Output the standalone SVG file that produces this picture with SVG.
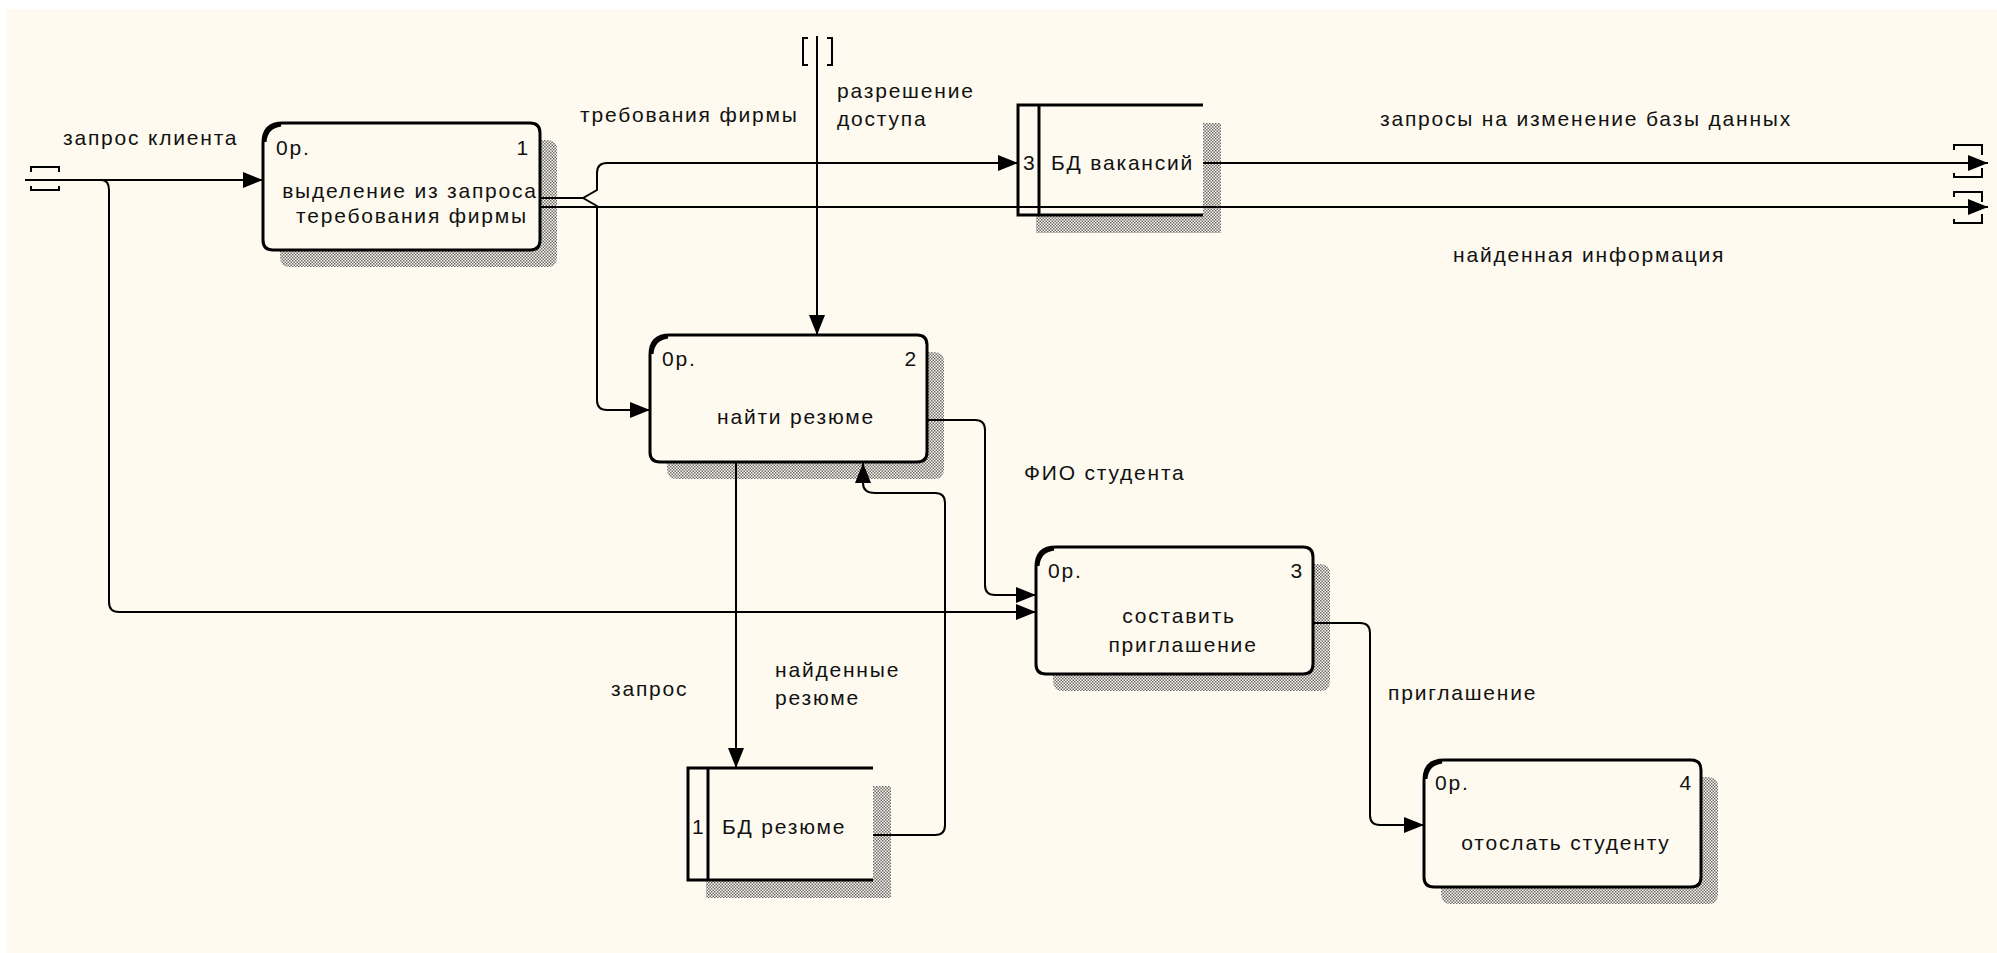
<svg xmlns="http://www.w3.org/2000/svg" xmlns:xlink="http://www.w3.org/1999/xlink" width="1997" height="953" viewBox="0 0 1997 953">
<style>
.bg{fill:#FEFAEF}
.box{fill:#FEFAEF;stroke:#000;stroke-width:3}
.shadow{fill:url(#hatch);stroke:none}
.ds{fill:none;stroke:#000;stroke-width:3}
.cn{fill:none;stroke:#000;stroke-width:2}
.tun{fill:none;stroke:#000;stroke-width:2}
text{font-family:"Liberation Sans",Arial,sans-serif;font-size:21px;fill:#111;letter-spacing:1.8px}
.mid{text-anchor:middle}
.end{text-anchor:end}
</style>
<defs>
<pattern id="hatch" width="3" height="3" patternUnits="userSpaceOnUse">
<rect width="3" height="3" fill="#FEFAEF"/>
<rect x="0" y="0" width="1.5" height="1.5" fill="#6a6a6a"/>
<rect x="1.5" y="1.5" width="1.5" height="1.5" fill="#6a6a6a"/>
</pattern>
<path id="boxShape" d="M0,20 Q0,0 20,0 H267 Q277,0 277,10 V117 Q277,127 267,127 H10 Q0,127 0,117 Z"/>
<path id="corner" d="M2,19 Q3,4 18,2" fill="none" stroke="#000" stroke-width="3"/>
<marker id="arr" markerUnits="userSpaceOnUse" markerWidth="20" markerHeight="16" refX="20" refY="8" orient="auto" viewBox="0 0 20 16">
<path d="M0,0 L20,8 L0,16 Z" fill="#000"/>
</marker>
</defs>
<rect width="1997" height="953" fill="#fff"/>
<rect class="bg" x="6" y="9" width="1991" height="944"/>

<g id="node1" transform="translate(263,123)">
<use xlink:href="#boxShape" href="#boxShape" class="shadow" x="17" y="17"/>
<use xlink:href="#boxShape" href="#boxShape" class="box"/>
<use xlink:href="#corner" href="#corner"/>
<text x="13" y="32">0р.</text>
<text class="end" x="267" y="32">1</text>
<text class="mid" x="147" y="75">выделение из запроса</text>
<text class="mid" x="149" y="100">теребования фирмы</text>
</g>

<g id="node2" transform="translate(650,335)">
<use xlink:href="#boxShape" href="#boxShape" class="shadow" x="17" y="17"/>
<use xlink:href="#boxShape" href="#boxShape" class="box"/>
<use xlink:href="#corner" href="#corner"/>
<text x="12" y="31">0р.</text>
<text class="end" x="268" y="31">2</text>
<text class="mid" x="146" y="89">найти резюме</text>
</g>

<g id="node3" transform="translate(1036,547)">
<use xlink:href="#boxShape" href="#boxShape" class="shadow" x="17" y="17"/>
<use xlink:href="#boxShape" href="#boxShape" class="box"/>
<use xlink:href="#corner" href="#corner"/>
<text x="12" y="31">0р.</text>
<text class="end" x="268" y="31">3</text>
<text class="mid" x="143" y="76">составить</text>
<text class="mid" x="147" y="105">приглашение</text>
</g>

<g id="node4" transform="translate(1424,760)">
<use xlink:href="#boxShape" href="#boxShape" class="shadow" x="17" y="17"/>
<use xlink:href="#boxShape" href="#boxShape" class="box"/>
<use xlink:href="#corner" href="#corner"/>
<text x="11" y="30">0р.</text>
<text class="end" x="269" y="30">4</text>
<text class="mid" x="142" y="90">отослать студенту</text>
</g>

<g id="store3">
<rect class="shadow" x="1036" y="123" width="185" height="110"/>
<rect class="bg" x="1018" y="105" width="185" height="110"/>
<path class="ds" d="M1203,105 H1018 V215 H1203 M1039,105 V215"/>
<text x="1023" y="170" style="letter-spacing:0">3</text>
<text x="1051" y="170">БД вакансий</text>
</g>

<g id="store1">
<rect class="shadow" x="706" y="786" width="185" height="112"/>
<rect class="bg" x="688" y="768" width="185" height="112"/>
<path class="ds" d="M873,768 H688 V880 H873 M708,768 V880"/>
<text x="692" y="834" style="letter-spacing:0">1</text>
<text x="722" y="834">БД резюме</text>
</g>

<g id="connectors">
<path class="cn" d="M25,180 H263" marker-end="url(#arr)"/>
<path class="cn" d="M101,180 Q109,180 109,190 V602 Q109,612 119,612 H1036" marker-end="url(#arr)"/>
<path class="cn" d="M540,198 H583 L597,190 V173 Q597,163 607,163 H1018" marker-end="url(#arr)"/>
<path class="cn" d="M583,198 L597,206 V400 Q597,410 607,410 H650" marker-end="url(#arr)"/>
<path class="cn" d="M540,207 H1988" marker-end="url(#arr)"/>
<path class="cn" d="M1203,163 H1988" marker-end="url(#arr)"/>
<path class="cn" d="M817,36 V335" marker-end="url(#arr)"/>
<path class="cn" d="M927,420 H975 Q985,420 985,430 V585 Q985,595 995,595 H1036" marker-end="url(#arr)"/>
<path class="cn" d="M736,462 V768" marker-end="url(#arr)"/>
<path class="cn" d="M873,835 H935 Q945,835 945,825 V503 Q945,493 935,493 H875 Q863,493 863,483 V463" marker-end="url(#arr)"/>
<path class="cn" d="M1313,623 H1360 Q1370,623 1370,633 V815 Q1370,825 1380,825 H1424" marker-end="url(#arr)"/>
<path class="tun" d="M31,172 V167 H59 V172 M31,186 V190 H59 V186"/>
<path class="tun" d="M808,38 H803 V65 H808 M827,38 H832 V65 H827"/>
<path class="tun" d="M1954,150 V145 H1982 V155 M1954,173 V177 H1982 V168"/>
<path class="tun" d="M1954,197 V192 H1982 V202 M1954,219 V223 H1982 V214"/>
<text x="63" y="145">запрос клиента</text>
<text x="580" y="122">требования фирмы</text>
<text x="837" y="98">разрешение</text>
<text x="837" y="126">доступа</text>
<text x="1380" y="126">запросы на изменение базы данных</text>
<text x="1453" y="262">найденная информация</text>
<text x="1024" y="480">ФИО студента</text>
<text x="611" y="696">запрос</text>
<text x="775" y="677">найденные</text>
<text x="775" y="705">резюме</text>
<text x="1388" y="700">приглашение</text>
</g>
</svg>
